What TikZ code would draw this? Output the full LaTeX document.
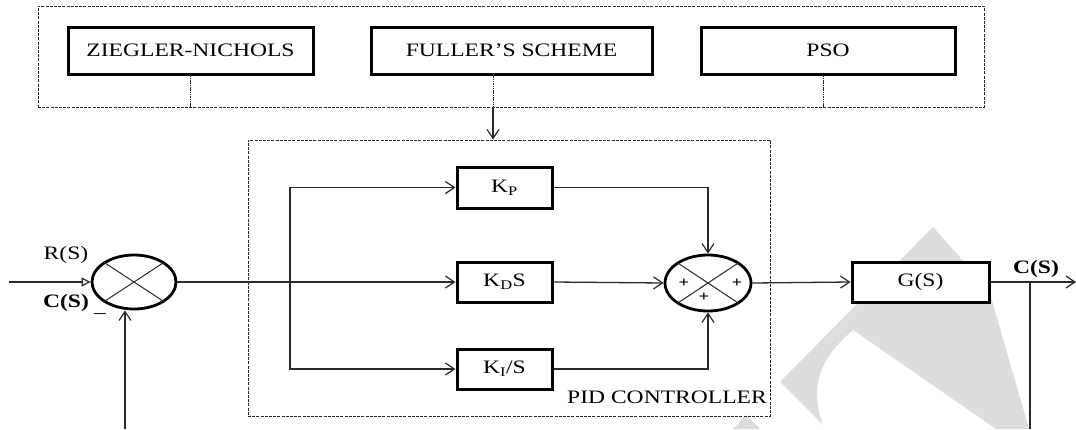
\documentclass[tikz,border=0pt]{standalone}
\usepackage{fontspec}
\setmainfont{Liberation Serif}[FakeStretch=1.24]
\usetikzlibrary{arrows.meta,shapes.geometric}
\newcommand\fs{\fontsize{19}{21}\selectfont}
\definecolor{wmgray}{HTML}{DDDDDD}
\definecolor{lncol}{HTML}{2A2A2A}
\tikzset{
  blk/.style={draw, line width=3pt, fill=white, inner sep=0pt, font=\fs},
  sumj/.style={ellipse, draw, line width=2.8pt, fill=white, inner sep=0pt},
  conn/.style={line width=1.3pt, draw=lncol},
  arr/.style={conn, -{Straight Barb[length=9pt,width=12pt,line width=1.2pt]}},
  inarr/.style={conn, -{Triangle[open,length=9pt,width=9pt,line width=1.2pt]}},
  grpframe/.style={draw, line width=1pt, draw=lncol, dash pattern=on 3pt off 1.2pt, inner sep=0pt},
  tickline/.style={line width=0.9pt, draw=lncol, dash pattern=on 1.5pt off 0.8pt},
  lbl/.style={inner sep=0pt, font=\fs},
  plus/.style={inner sep=0pt, font=\fontsize{15}{16}\selectfont\bfseries},
}
\begin{document}
\begin{tikzpicture}[x=1pt,y=-1pt]
\useasboundingbox (0,0) rectangle (1076,429);
% watermark
\fill[wmgray] (780,382) -- (933,227) -- (989,290) -- (1029,429) -- (996,429) -- (853,330)
   .. controls (828,352) and (806,378) .. (823,425) -- cycle;
\fill[wmgray] (733,429) -- (746,415) -- (760,429) -- cycle;

% tuning methods group
\node[grpframe, minimum width=946pt, minimum height=101pt] (tuners) at (511,56.5) {};
\node[blk, minimum width=245pt, minimum height=47pt] (zn) at (190.5,50.5) {ZIEGLER-NICHOLS};
\node[blk, minimum width=281pt, minimum height=47pt] (fuller) at (511.5,50.5) {FULLER’S SCHEME};
\node[blk, minimum width=254pt, minimum height=47pt] (pso) at (828,50.5) {PSO};
\coordinate (fa) at (493,74);

% PID controller group
\node[grpframe, minimum width=522pt, minimum height=276pt] (pid) at (509,278) {};
\node[lbl, anchor=east] (pidlbl) at (767,397) {PID CONTROLLER};

\node[sumj, minimum width=84pt, minimum height=54pt] (s1) at (134,282) {};
\draw[conn, line width=1pt] (s1.north west) -- (s1.south east) (s1.north east) -- (s1.south west);

\node[blk, minimum width=95pt, minimum height=41pt] (kp) at (504.5,187.5) {K\textsubscript{P}};
\node[blk, minimum width=95pt, minimum height=40pt] (kd) at (504.5,282) {K\textsubscript{D}S};
\node[blk, minimum width=95pt, minimum height=40pt] (ki) at (504.5,369) {K\textsubscript{I}/S};

\node[sumj, minimum width=86pt, minimum height=56pt] (s2) at (708,283) {};
\draw[conn, line width=1pt] (s2.north west) -- (s2.south east) (s2.north east) -- (s2.south west);
\node[plus] (p1) at (684,283) {+};
\node[plus] (p2) at (737,283) {+};
\node[plus] (p3) at (704,297) {+};

\node[blk, minimum width=137pt, minimum height=40pt] (g) at (920.5,282) {G(S)};

% labels
\node[lbl] (rs) at (66,255) {R(S)};
\node[lbl, font=\fs\bfseries] (cs1) at (66,303) {C(S)};
\node[lbl] (minus) at (100,316) {–};
\node[lbl, font=\fs\bfseries] (cs2) at (1036,269) {C(S)};

% coordinates
\coordinate (in) at (9,282);
\coordinate (br) at (290,282);
\coordinate (tap) at (1030,282);
\coordinate (out) at (1076,282);
\coordinate (fbR) at (1030,429);
\coordinate (fbL) at (125,429);

% tuner ticks
\draw[tickline] (zn.south) -- (zn.south |- tuners.south);
\draw[tickline] (pso.south -| 823,0) -- (823,107);
\draw[tickline] (fa) -- (fa |- tuners.south);
\draw[arr] (fa |- tuners.south) -- (fa |- pid.north);

% signal flow
\draw[inarr] (in) -- (s1.west);
\draw[conn] (s1.east) -- (br);
\draw[arr] (br) -- (kd.west);
\draw[arr] (br) |- (kp.west);
\draw[arr] (br) |- (ki.west);
\draw[arr] (kp.east) -| (s2.north);
\draw[arr] (kd.east) -- (s2.west);
\draw[arr] (ki.east) -| (s2.south);
\draw[arr] (s2.east) -- (g.west);
\draw[arr] (g.east) -- (out);
\draw[conn] (tap) -- (fbR);
\draw[arr] (fbL) -- (fbL |- s1.south);
\end{tikzpicture}
\end{document}
